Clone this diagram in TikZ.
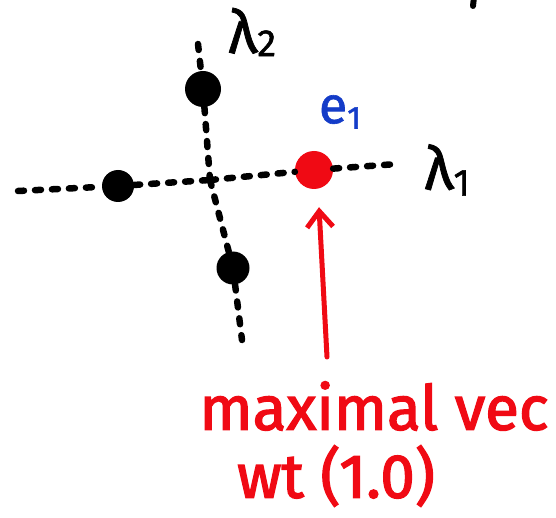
\documentclass[tikz,border=0pt]{standalone}
\usepackage{fontspec}
\setmainfont{Fira Sans}
\newfontfamily\handfont[FakeBold=1.2]{Fira Sans}
\newfontfamily\redhand[FakeBold=2.2]{Fira Sans}
\usetikzlibrary{arrows.meta}
\definecolor{penred}{RGB}{240,10,20}
\definecolor{penblue}{RGB}{20,60,200}
\tikzset{
  axisline/.style={black, line width=6.5pt, line cap=round, dash pattern=on 6pt off 11pt},
  blackdot/.style={circle, fill=black, inner sep=0pt, minimum size=#1},
  reddot/.style={circle, fill=penred, inner sep=0pt, minimum size=38pt},
  lab/.style={inner sep=0pt, font=\handfont\fontsize{60}{64}\selectfont},
  redtext/.style={inner sep=0pt, text=penred, font=\redhand\fontsize{62}{66}\selectfont},
}
\begin{document}
\begin{tikzpicture}[x=1pt,y=-1pt]
\useasboundingbox (0,0) rectangle (556,518);
% axis coordinates
\coordinate (L) at (18,191);
\coordinate (R) at (397,164);
\coordinate (T) at (198,44);
\coordinate (B) at (242,340);
\coordinate (O) at (210,180);
% dots
\node[blackdot=32pt] (b1) at (118,186) {};
\node[blackdot=36pt] (b2) at (203,89) {};
\node[blackdot=33pt] (b3) at (233,268) {};
\node[reddot] (e) at (314,170) {};
% dashed axes
\draw[axisline] (L) -- (b1);
\draw[axisline] (b1) -- (O);
\draw[axisline] (O) -- (e);
\draw[axisline] (e) -- (R);
\draw[axisline] (T) -- (b2);
\draw[axisline] (b2) -- (O);
\draw[axisline] (O) -- (b3);
\draw[axisline] (b3) -- (B);
% labels
\node[lab] (l1) at (447,170) {λ\raisebox{-0.2ex}{\fontsize{38}{38}\selectfont 1}};
\node[lab] (l2) at (252,32) {λ\raisebox{-0.1ex}{\fontsize{38}{38}\selectfont 2}};
\node[lab, text=penblue, font=\handfont\fontsize{52}{56}\selectfont] (e1) at (340,112) {e\raisebox{-0.2ex}{\fontsize{32}{32}\selectfont 1}};
% arrow
\coordinate (A) at (327,357);
\draw[penred, line width=5pt, line cap=round, -{Straight Barb[length=16pt,width=26pt]}] (A) -- ([xshift=5pt,yshift=-18pt]e.south);
% red text
\node[redtext] (t1) at (374,406) {maximal vec};
\node[redtext] (t2) at (336,476) {wt (1.0)};
% stray mark at top right
\draw[black, line width=6pt, line cap=round] (474,-3) -- (473,6);
\end{tikzpicture}
\end{document}
